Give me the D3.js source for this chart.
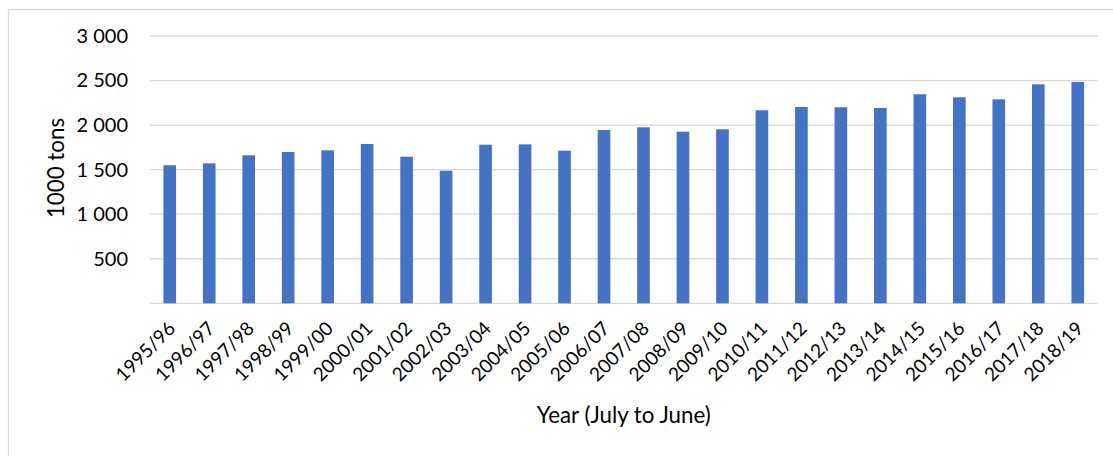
<!DOCTYPE html>
<html>
<head>
<meta charset="utf-8">
<script src="https://cdn.jsdelivr.net/npm/d3@7"></script>
<style>
  html, body { margin: 0; padding: 0; background: #fff; }
  svg { display: block; }
  text { font-family: Lato, "Noto Sans", sans-serif; fill: #000; }
</style>
</head>
<body>
<svg id="chart" width="1113" height="456"></svg>
<script>
// Production by marketing year, in thousand tons
const seasons = ["1995/96","1996/97","1997/98","1998/99","1999/00","2000/01","2001/02","2002/03",
  "2003/04","2004/05","2005/06","2006/07","2007/08","2008/09","2009/10","2010/11","2011/12",
  "2012/13","2013/14","2014/15","2015/16","2016/17","2017/18","2018/19"];
const tonnes = [1549,1571,1661,1698,1717,1788,1645,1488,1780,1784,1713,1945,1975,1926,1953,
  2166,2203,2200,2192,2346,2312,2289,2458,2484];
const yTicks = [0, 500, 1000, 1500, 2000, 2500, 3000];
const yTitle = "1000 tons";
const xTitle = "Year (July to June)";

const svg = d3.select("#chart");
const plotLeft = 150, plotRight = 1097.5, plotTop = 36, plotBottom = 303.3;

// chart-area frame
svg.append("rect")
  .attr("x", 8.5).attr("y", 9.5).attr("width", 1200).attr("height", 600)
  .attr("fill", "none").attr("stroke", "#d9d9d9").attr("stroke-width", 1.3);

const x = d3.scaleBand().domain(seasons).range([plotLeft, plotRight]).paddingInner(0.68).paddingOuter(0.34);
const y = d3.scaleLinear().domain([0, 3000]).range([plotBottom, plotTop]);

// horizontal gridlines
svg.append("g").selectAll("line").data(yTicks).join("line")
  .attr("x1", plotLeft).attr("x2", plotRight)
  .attr("y1", d => y(d)).attr("y2", d => y(d))
  .attr("stroke", "#d9d9d9").attr("stroke-width", 1.3);

// y axis labels (space as thousands separator, zero left blank)
const fmt = v => v === 0 ? "" : d3.format(",")(v).replace(/,/g, " ");
const yAxis = d3.axisLeft(y).tickValues(yTicks).tickFormat(fmt).tickSize(0).tickPadding(0);
const gy = svg.append("g").attr("transform", "translate(128,0)").call(yAxis);
gy.select(".domain").remove();
gy.selectAll("text").attr("font-size", 20).attr("font-family", "Lato, sans-serif").attr("fill", "#000");

// bars
svg.append("g").selectAll("rect").data(tonnes).join("rect")
  .attr("x", (d, i) => x(seasons[i]))
  .attr("width", x.bandwidth())
  .attr("y", d => y(d))
  .attr("height", d => y(0) - y(d))
  .attr("fill", "#4472c4");

// x axis labels, rotated
const xAxis = d3.axisBottom(x).tickSize(0).tickPadding(0);
const gx = svg.append("g").attr("transform", "translate(2,325)").call(xAxis);
gx.select(".domain").remove();
gx.selectAll("text")
  .attr("font-size", 19).attr("font-family", "Lato, sans-serif").attr("fill", "#000")
  .attr("text-anchor", "end")
  .attr("dy", "0.35em").attr("y", 0)
  .attr("transform", "rotate(-45)");

// axis titles
svg.append("text")
  .attr("transform", "translate(56,168) rotate(-90)")
  .attr("text-anchor", "middle").attr("dy", "0.35em")
  .attr("font-size", 22.3)
  .text(yTitle);

svg.append("text")
  .attr("x", (plotLeft + plotRight) / 2).attr("y", 415)
  .attr("text-anchor", "middle").attr("dy", "0.35em")
  .attr("font-size", 22.3)
  .text(xTitle);
</script>
</body>
</html>
